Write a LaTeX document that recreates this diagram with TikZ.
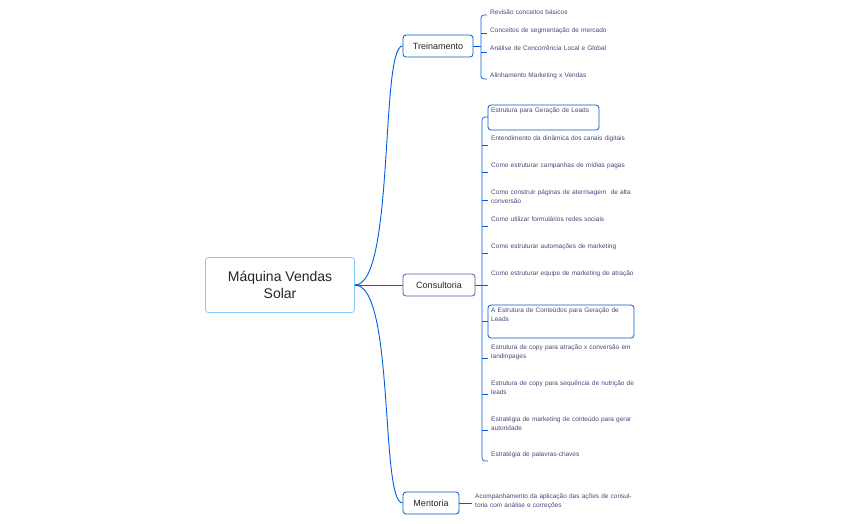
\documentclass[tikz,border=0pt]{standalone}
\usepackage{fontspec}
\setmainfont{Liberation Sans}
\begin{document}
\begin{tikzpicture}[x=1pt,y=-1pt,
  conn/.style={draw=blue!60!cyan!90!black, line width=0.9pt},
  br/.style={draw=blue!55!cyan!80!black, rounded corners=3pt, line width=0.8pt, fill=white, font=\fontsize{9}{10}\selectfont, inner sep=0pt, text=black!85},
  leaf/.style={anchor=north west, inner sep=0pt, align=left, text width=150pt, font=\fontsize{6.5}{8.4}\selectfont, text=black!55!blue!45!gray},
  lbox/.style={draw=blue!55!cyan!80!black, rounded corners=3pt, line width=0.8pt}]
\useasboundingbox (0,0) rectangle (845,523);
\node[br, minimum width=149pt, minimum height=55pt, draw=blue!40!cyan!50, align=center, font=\fontsize{14}{17}\selectfont] (root) at (280,285) {Máquina Vendas\\Solar};
\node[br, minimum width=70pt, minimum height=22pt] (tr) at (438,46) {Treinamento};
\node[br, minimum width=72pt, minimum height=22pt, draw=gray!70!blue] (co) at (439,285) {Consultoria};
\node[br, minimum width=56pt, minimum height=22pt] (me) at (431,503) {Mentoria};
\begin{scope}[on background layer/.try]
\end{scope}
\draw[conn] (root.east) .. controls (395,285) and (380,46) .. (tr.west);
\draw[conn] (root.east) -- (co.west);
\draw[conn] (root.east) .. controls (395,285) and (380,503) .. (me.west);
% Treinamento leaves
\node[leaf] (t1) at (490,10) {Revisão conceitos básicos};
\node[leaf] (t2) at (490,28) {Conceitos de segmentação de mercado};
\node[leaf] (t3) at (490,46) {Análise de Concorrência Local e Global};
\node[leaf] (t4) at (490,73) {Alinhamento Marketing x Vendas};
\draw[conn, line width=0.7pt] (tr.east) -- (481,46);
\draw[conn, line width=0.7pt, rounded corners=3pt] (487,15) -- (481,15) -- (481,79) -- (487,79);
\draw[conn, line width=0.7pt] (481,33) -- (487,33);
\draw[conn, line width=0.7pt] (481,52) -- (487,52);
% Consultoria leaves
\draw[lbox] (488,105) rectangle (599,130);
\draw[lbox] (488,305) rectangle (634,338);
\node[leaf] (c1) at (491,108) {Estrutura para Geração de Leads};
\node[leaf] (c2) at (491,136) {Entendimento da dinâmica dos canais digitais};
\node[leaf] (c3) at (491,163) {Como estruturar campanhas de mídias pagas};
\node[leaf] (c4) at (491,190) {Como construir páginas de aterrisagem\ \ de alta conversão};
\node[leaf] (c5) at (491,217) {Como utilizar formulários redes sociais};
\node[leaf] (c6) at (491,244) {Como estruturar automações de marketing};
\node[leaf] (c7) at (491,271) {Como estruturar equipe de marketing de atração};
\node[leaf, text width=142pt] (c8) at (491,308) {A Estrutura de Conteúdos para Geração de Leads};
\node[leaf] (c9) at (491,345) {Estrutura de copy para atração x conversão em landinpages};
\node[leaf] (c10) at (491,381) {Estrutura de copy para sequência de nutrição de leads};
\node[leaf] (c11) at (491,417) {Estratégia de marketing de conteúdo para gerar autoridade};
\node[leaf] (c12) at (491,452) {Estratégia de palavras-chaves};
\draw[conn, line width=0.7pt] (co.east) -- (482,285);
\draw[conn, line width=0.7pt, rounded corners=3pt] (488,117) -- (482,117) -- (482,461) -- (488,461);
\foreach \y in {145,172,200,226,253,285,321,358,394,430}
  \draw[conn, line width=0.7pt] (482,\y) -- (488,\y);
% Mentoria leaf
\node[leaf, text width=160pt] (m1) at (475,494) {Acompanhamento da aplicação das ações de consultoria com análise e correções};
\draw[conn, line width=0.7pt] (me.east) -- (472,503);
\end{tikzpicture}
\end{document}
